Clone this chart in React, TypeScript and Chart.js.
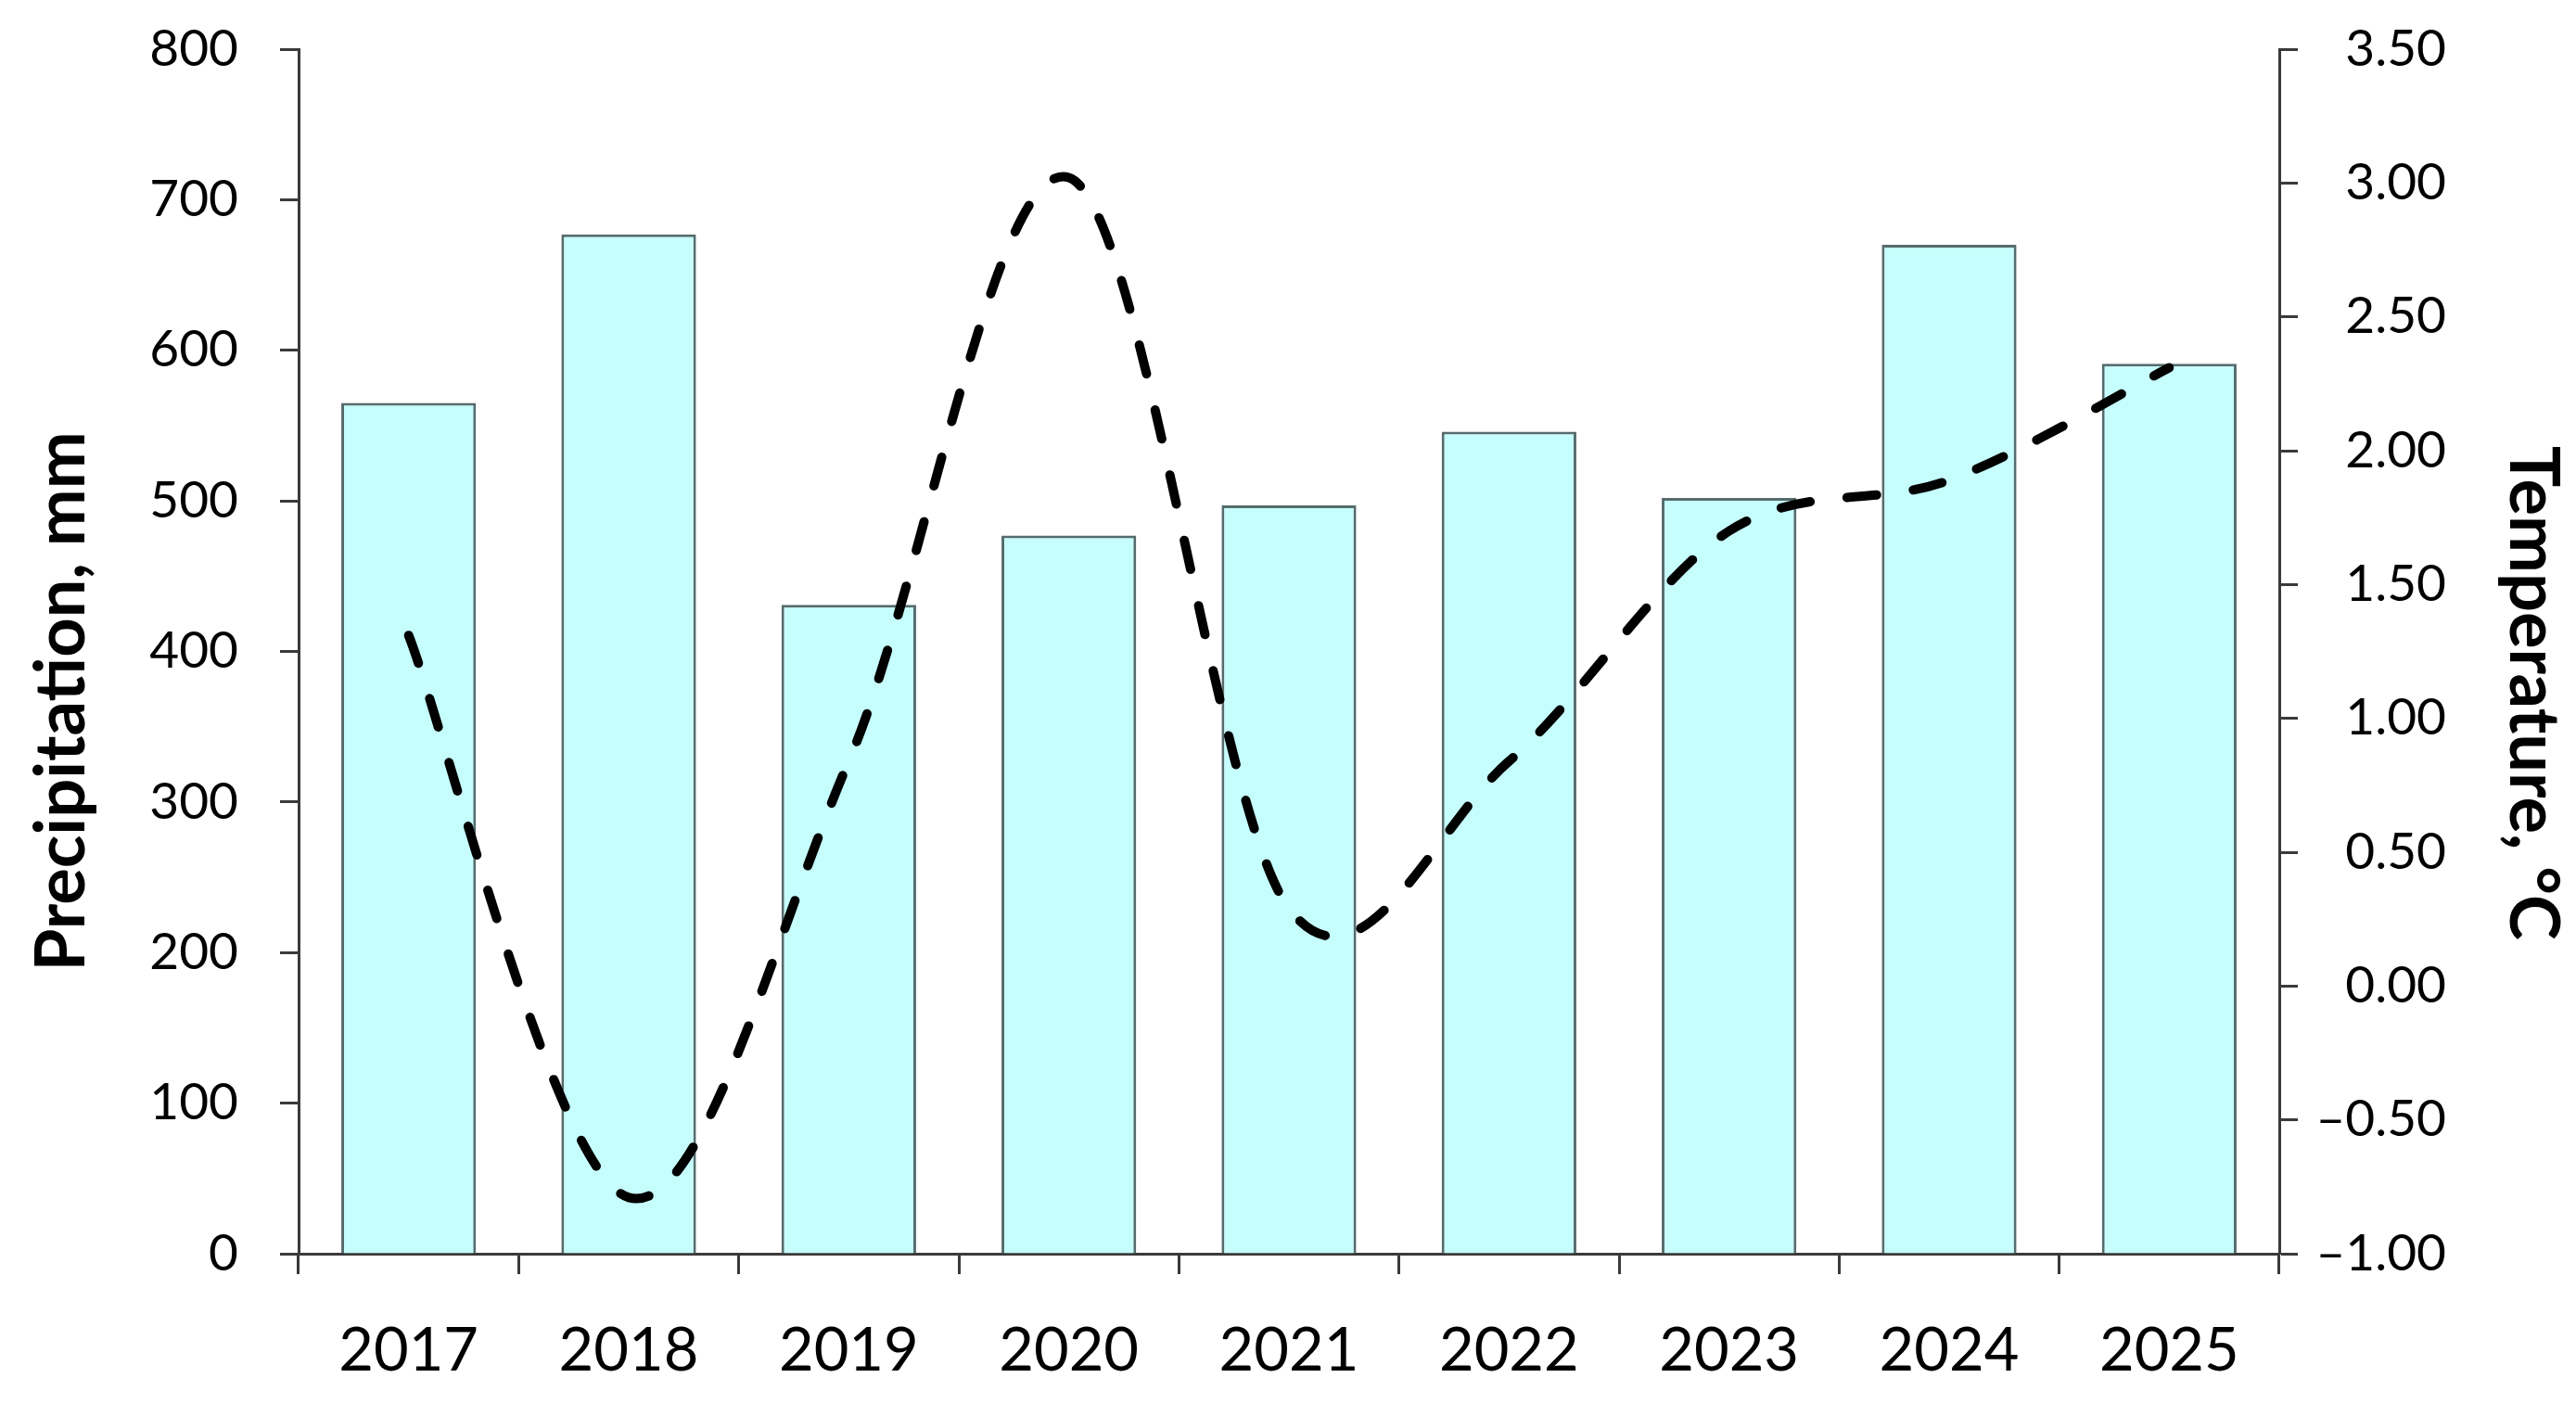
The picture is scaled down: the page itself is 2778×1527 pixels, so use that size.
import React, { useEffect, useRef } from "react";
import { Chart, registerables } from "chart.js";

Chart.register(...registerables);

const years = ["2017", "2018", "2019", "2020", "2021", "2022", "2023", "2024", "2025"];
const precipitation = [565, 677, 431, 477, 497, 546, 502, 670, 591];
const temperature = [1.31, -0.79, 0.84, 3.02, 0.29, 0.84, 1.7, 1.89, 2.31];
const leftTitle = "Precipitation, mm";
const rightTitle = "Temperature, °C";

const W = 2778;
const H = 1527;
const FONT = "Lato, 'Open Sans', sans-serif";
const AXIS = "#3a3a3a";

function fmtTemp(v: number) {
  const s = Math.abs(v).toFixed(2);
  return v < -1e-9 ? "\u2013" + s : s;
}

// Excel-style smoothing: uniform Catmull-Rom control points on the line element
const excelSmooth = {
  id: "excelSmooth",
  beforeDatasetDraw(chart: any, args: any) {
    const meta = args.meta;
    if (meta.type !== "line" || !meta.dataset) return;
    const line = meta.dataset;
    line.updateControlPoints(chart.chartArea, meta.iScale ? meta.iScale.axis : "x");
    const pts = meta.data;
    const n = pts.length;
    for (let i = 0; i < n; i++) {
      const p = pts[i];
      const prev = pts[Math.max(i - 1, 0)];
      const next = pts[Math.min(i + 1, n - 1)];
      const dx = (next.x - prev.x) / 6;
      const dy = (next.y - prev.y) / 6;
      p.cp1x = p.x - dx;
      p.cp1y = p.y - dy;
      p.cp2x = p.x + dx;
      p.cp2y = p.y + dy;
    }
    line._path = undefined;
  },
};

export default function App() {
  const ref = useRef<HTMLCanvasElement | null>(null);

  useEffect(() => {
    if (!ref.current) return;
    const chart = new Chart(ref.current, {
      type: "bar",
      plugins: [excelSmooth],
      data: {
        labels: years,
        datasets: [
          {
            type: "line",
            label: "Temperature",
            data: temperature,
            yAxisID: "y1",
            borderColor: "#000000",
            borderWidth: 10,
            borderDash: [32, 40],
            borderCapStyle: "round",
            pointRadius: 0,
            tension: 0.4,
            fill: false,
            order: 0,
          } as any,
          {
            type: "bar",
            label: "Precipitation",
            data: precipitation,
            yAxisID: "y",
            backgroundColor: "#c6fdfd",
            borderColor: "#566c6c",
            borderWidth: 3,
            barPercentage: 0.612,
            categoryPercentage: 1,
            order: 1,
          } as any,
        ],
      },
      options: {
        responsive: false,
        devicePixelRatio: 1,
        animation: false,
        layout: { padding: { top: 53, left: 0, right: 140, bottom: 0 } },
        plugins: { legend: { display: false }, tooltip: { enabled: false } },
        scales: {
          x: {
            type: "category",
            offset: true,
            grid: {
              display: true,
              offset: true,
              drawOnChartArea: false,
              drawTicks: true,
              tickLength: 22,
              tickWidth: 3,
              tickColor: AXIS,
            },
            border: { display: true, color: AXIS, width: 3 },
            ticks: {
              font: { family: FONT, size: 65 },
              color: "#000",
              padding: 44,
              maxRotation: 0,
              autoSkip: false,
            },
            afterFit: (s: any) => {
              s.height = 175;
              s.paddingTop = 0;
              s.paddingBottom = 0;
            },
          },
          y: {
            position: "left",
            min: 0,
            max: 800,
            ticks: {
              stepSize: 100,
              font: { family: FONT, size: 55 },
              color: "#000",
              padding: 45,
            },
            grid: {
              drawOnChartArea: false,
              drawTicks: true,
              tickLength: 20,
              tickWidth: 3,
              tickColor: AXIS,
            },
            border: { display: true, color: AXIS, width: 3 },
            title: {
              display: true,
              text: leftTitle + "      ",
              color: "#000",
              font: { family: FONT, size: 74, weight: "bold", lineHeight: 1 },
              padding: { top: 30, bottom: 0 },
            },
            afterFit: (s: any) => {
              s.width = 322;
              s.paddingTop = 0;
              s.paddingBottom = 0;
            },
          },
          y1: {
            position: "right",
            min: -1,
            max: 3.5,
            ticks: {
              stepSize: 0.5,
              font: { family: FONT, size: 55 },
              color: "#000",
              crossAlign: "far",
              callback: (v: any) => fmtTemp(Number(v)),
            },
            grid: {
              drawOnChartArea: false,
              drawTicks: true,
              tickLength: 20,
              tickWidth: 3,
              tickColor: AXIS,
            },
            border: { display: true, color: AXIS, width: 3 },
            title: {
              display: true,
              text: "     " + rightTitle,
              color: "#000",
              font: { family: FONT, size: 74, weight: "bold", lineHeight: 1 },
              padding: { top: -130, bottom: 0 },
            },
            afterFit: (s: any) => {
              s.width = 180;
              s.paddingTop = 0;
              s.paddingBottom = 0;
            },
          },
        },
      } as any,
    });
    return () => chart.destroy();
  }, []);

  return (
    <div
      style={{
        position: "fixed",
        left: 0,
        top: 0,
        width: W,
        height: H,
        background: "#ffffff",
      }}
    >
      <canvas ref={ref} width={W} height={H} style={{ width: W, height: H, display: "block" }} />
    </div>
  );
}
